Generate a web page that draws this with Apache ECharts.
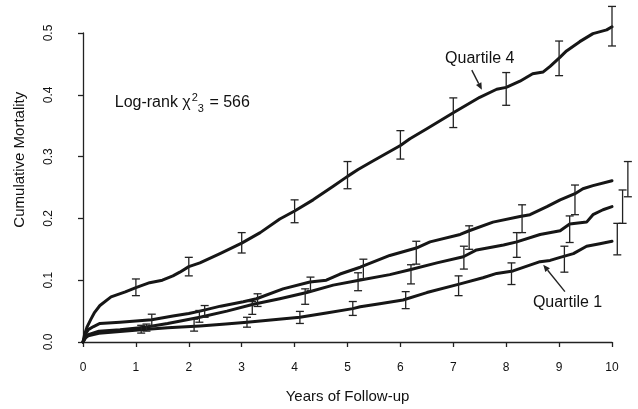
<!DOCTYPE html>
<html>
<head>
<meta charset="utf-8">
<script src="https://cdn.jsdelivr.net/npm/echarts@6/dist/echarts.min.js"></script>
<style>
  html, body { margin: 0; padding: 0; background: #fff; }
  #chart { width: 638px; height: 409px; }
</style>
</head>
<body>
<div id="chart"></div>
<script>
// Cumulative mortality by quartile, Kaplan-Meier style curves with yearly 95% CI bars
var xTicks = [0, 1, 2, 3, 4, 5, 6, 7, 8, 9, 10];
var yTicks = [0, 0.1, 0.2, 0.3, 0.4, 0.5];

// Curves: [years, cumulative mortality]
var quartile4 = [[0,0],[0.03,0.012],[0.08,0.025],[0.15,0.037],[0.22,0.048],[0.32,0.059],[0.53,0.073],[0.8,0.081],[1.0,0.088],[1.26,0.096],[1.5,0.100],[1.7,0.107],[1.83,0.113],[2.0,0.122],[2.21,0.128],[2.59,0.143],[3.0,0.16],[3.35,0.177],[3.72,0.199],[4.0,0.212],[4.35,0.23],[4.73,0.252],[5.0,0.268],[5.2,0.279],[5.48,0.293],[6.0,0.318],[6.18,0.329],[6.5,0.345],[7.0,0.371],[7.5,0.396],[7.82,0.409],[8.0,0.412],[8.26,0.422],[8.5,0.434],[8.7,0.437],[8.83,0.446],[9.02,0.461],[9.14,0.471],[9.39,0.486],[9.64,0.499],[9.9,0.505],[10,0.51]];
var quartile3 = [[0,0],[0.05,0.013],[0.1,0.02],[0.2,0.025],[0.32,0.03],[0.7,0.032],[1.0,0.034],[1.3,0.036],[1.7,0.042],[2.0,0.046],[2.21,0.05],[2.6,0.058],[3.03,0.065],[3.28,0.07],[3.78,0.086],[4.29,0.097],[4.6,0.1],[4.86,0.11],[5.24,0.121],[5.8,0.14],[6.3,0.152],[6.56,0.162],[7.13,0.174],[7.3,0.18],[7.75,0.194],[8.26,0.203],[8.45,0.206],[8.77,0.219],[9.02,0.23],[9.3,0.24],[9.45,0.248],[9.64,0.253],[10,0.261]];
var quartile2 = [[0,0],[0.05,0.008],[0.1,0.012],[0.3,0.0175],[0.7,0.02],[1.17,0.024],[1.6,0.03],[2.21,0.04],[2.72,0.05],[3.22,0.061],[3.72,0.07],[4.23,0.08],[4.73,0.092],[5.17,0.099],[5.8,0.109],[6.18,0.117],[6.69,0.128],[7.19,0.138],[7.44,0.149],[7.95,0.157],[8.2,0.162],[8.64,0.174],[9.02,0.18],[9.2,0.191],[9.52,0.194],[9.64,0.206],[9.83,0.214],[10,0.219]];
var quartile1 = [[0,0],[0.05,0.007],[0.1,0.01],[0.3,0.014],[0.7,0.017],[1.1,0.02],[1.6,0.023],[2.21,0.026],[2.7,0.029],[3.1,0.032],[3.6,0.036],[4.1,0.04],[4.6,0.047],[5.1,0.054],[5.24,0.057],[5.61,0.062],[6.05,0.068],[6.5,0.08],[7.13,0.094],[7.56,0.104],[7.82,0.111],[8.13,0.115],[8.64,0.13],[8.83,0.132],[9.02,0.137],[9.27,0.143],[9.52,0.155],[9.77,0.159],[10,0.163]];

// Confidence bars: [years, lower, upper]
var ci4 = [[1,0.075,0.102],[2,0.107,0.137],[3,0.144,0.177],[4,0.193,0.230],[5,0.248,0.292],[6,0.296,0.342],[7,0.347,0.395],[8,0.383,0.436],[9,0.431,0.487],[10,0.479,0.543]];
var ci3 = [[1.3,0.026,0.045],[2.3,0.040,0.059],[3.3,0.0575,0.078],[4.3,0.083,0.105],[5.3,0.102,0.134],[6.3,0.126,0.163],[7.3,0.150,0.188],[8.3,0.177,0.222],[9.3,0.206,0.254],[10.3,0.235,0.292]];
var ci2 = [[1.2,0.0176,0.029],[2.2,0.032,0.051],[3.2,0.0447,0.0655],[4.2,0.061,0.086],[5.2,0.083,0.112],[6.2,0.094,0.125],[7.2,0.118,0.155],[8.2,0.137,0.177],[9.2,0.161,0.204],[10.2,0.192,0.246]];
var ci1 = [[1.1,0.0144,0.027],[2.1,0.0176,0.037],[3.1,0.024,0.040],[4.1,0.030,0.0495],[5.1,0.043,0.0655],[6.1,0.054,0.0815],[7.1,0.075,0.107],[8.1,0.093,0.128],[9.1,0.113,0.155],[10.1,0.141,0.192]];

var INK = '#161616';
var FONT = '"Liberation Sans", Arial, Helvetica, sans-serif';

function curve(data) {
  return {
    type: 'line', data: data, symbol: 'none', clip: false, z: 3,
    lineStyle: { color: INK, width: 3, join: 'round', cap: 'round' },
    animation: false
  };
}

function ciBars(data) {
  return {
    type: 'custom', data: data, clip: false, z: 4, animation: false,
    encode: { x: 0, y: [1, 2] },
    renderItem: function (params, api) {
      var lo = api.coord([api.value(0), api.value(1)]);
      var hi = api.coord([api.value(0), api.value(2)]);
      var w = 4;
      var st = { stroke: '#222', lineWidth: 1.3, fill: null };
      return {
        type: 'group',
        children: [
          { type: 'line', shape: { x1: lo[0], y1: lo[1], x2: hi[0], y2: hi[1] }, style: st },
          { type: 'line', shape: { x1: lo[0] - w, y1: lo[1], x2: lo[0] + w, y2: lo[1] }, style: st },
          { type: 'line', shape: { x1: hi[0] - w, y1: hi[1], x2: hi[0] + w, y2: hi[1] }, style: st }
        ]
      };
    }
  };
}

var chart = echarts.init(document.getElementById('chart'), null, { renderer: 'canvas' });

chart.setOption({
  animation: false,
  backgroundColor: '#fff',
  textStyle: { fontFamily: FONT },
  grid: { left: 83, right: 26, top: 33, bottom: 63, containLabel: false },
  xAxis: {
    type: 'value', min: xTicks[0], max: xTicks[xTicks.length - 1], interval: 1,
    offset: 13,
    name: 'Years of Follow-up', nameLocation: 'middle', nameGap: 34,
    nameTextStyle: { fontSize: 15, color: '#111', fontFamily: FONT },
    axisLine: { show: true, lineStyle: { color: '#222', width: 1.3 } },
    axisTick: { show: true, length: 5, lineStyle: { color: '#222', width: 1.3 } },
    axisLabel: { fontSize: 12, color: '#111', margin: 7, fontFamily: FONT },
    splitLine: { show: false }
  },
  yAxis: {
    type: 'value', min: yTicks[0], max: yTicks[yTicks.length - 1], interval: 0.1,
    offset: 21,
    axisLine: { show: true, lineStyle: { color: '#222', width: 1.3 } },
    axisTick: { show: true, length: 5, lineStyle: { color: '#222', width: 1.3 } },
    axisLabel: { fontSize: 12, color: '#111', margin: 7, rotate: 90, fontFamily: FONT,
      formatter: function (v) { return v.toFixed(1); } },
    splitLine: { show: false }
  },
  series: [
    curve(quartile4), curve(quartile3), curve(quartile2), curve(quartile1),
    ciBars(ci4), ciBars(ci3), ciBars(ci2), ciBars(ci1)
  ]
});

// Annotations placed in data coordinates
function px(t, v) { return chart.convertToPixel({ gridIndex: 0 }, [t, v]); }

function arrow(from, to) {
  var a = px(from[0], from[1]);
  var b = px(to[0], to[1]);
  var ang = Math.atan2(b[1] - a[1], b[0] - a[0]);
  var L = 7, W = 3;
  var bx = b[0] - L * Math.cos(ang), by = b[1] - L * Math.sin(ang);
  return [
    { type: 'line', shape: { x1: a[0], y1: a[1], x2: bx, y2: by },
      style: { stroke: '#222', lineWidth: 1.4 }, z: 10 },
    { type: 'polygon', shape: { points: [
        [b[0], b[1]],
        [bx - W * Math.sin(ang), by + W * Math.cos(ang)],
        [bx + W * Math.sin(ang), by - W * Math.cos(ang)]
      ] }, style: { fill: '#222' }, z: 10 }
  ];
}

var yTitlePos = px(0, 0.295);
var logRankPos = px(0.6, 0.388);
var q4Pos = px(7.5, 0.459);
var q1Pos = px(9.16, 0.0635);

var graphics = [
  { type: 'text', x: 20, y: yTitlePos[1], rotation: Math.PI / 2,
    style: { text: 'Cumulative Mortality', fill: '#111', font: '15px ' + FONT,
      textAlign: 'center', textVerticalAlign: 'middle' }, z: 10 },
  { type: 'text', x: logRankPos[0], y: logRankPos[1],
    style: {
      text: '{a|Log-rank χ}{sup|2}{sub|3}{a| = 566}',
      textVerticalAlign: 'middle', textAlign: 'left',
      rich: {
        a: { fontSize: 16, fontFamily: FONT, fill: '#111', lineHeight: 26, verticalAlign: 'middle' },
        sup: { fontSize: 11, fontFamily: FONT, fill: '#111', lineHeight: 11, verticalAlign: 'top', padding: [3, 0, 0, 1] },
        sub: { fontSize: 11, fontFamily: FONT, fill: '#111', lineHeight: 11, verticalAlign: 'bottom', padding: [0, 1, 1, 0] }
      }
    }, z: 10 },
  { type: 'text', x: q4Pos[0], y: q4Pos[1],
    style: { text: 'Quartile 4', fill: '#111', font: '16px ' + FONT, textAlign: 'center', textVerticalAlign: 'middle' }, z: 10 },
  { type: 'text', x: q1Pos[0], y: q1Pos[1],
    style: { text: 'Quartile 1', fill: '#111', font: '16px ' + FONT, textAlign: 'center', textVerticalAlign: 'middle' }, z: 10 }
].concat(arrow([7.35, 0.44], [7.54, 0.408])).concat(arrow([9.11, 0.0815], [8.70, 0.125]));

chart.setOption({ graphic: graphics });
</script>
</body>
</html>
